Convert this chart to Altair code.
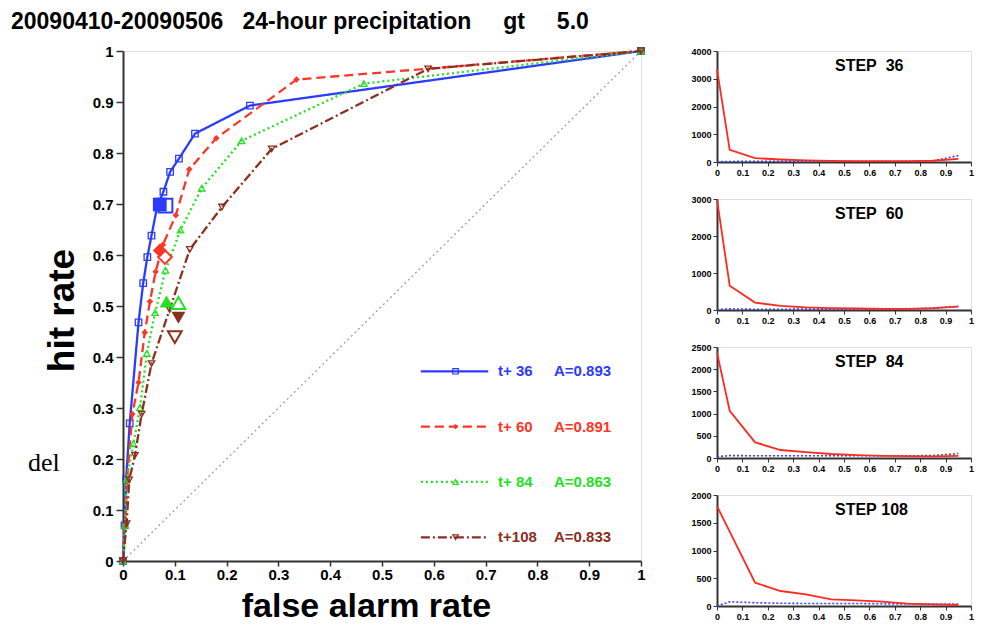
import altair as alt
import pandas as pd

# ---------------- data: ROC curves (false alarm rate, hit rate) ----------------
series_names = ["t+ 36", "t+ 60", "t+ 84", "t+108"]
area_labels = ["A=0.893", "A=0.891", "A=0.863", "A=0.833"]

far_36 = [0, 0.003, 0.006, 0.013, 0.030, 0.039, 0.047, 0.055, 0.066, 0.078, 0.091, 0.108, 0.139, 0.245, 1.0]
hr_36 = [0, 0.07, 0.16, 0.27, 0.468, 0.545, 0.596, 0.638, 0.695, 0.724, 0.763, 0.789, 0.838, 0.893, 1.0]
far_60 = [0, 0.004, 0.008, 0.018, 0.030, 0.042, 0.052, 0.063, 0.077, 0.102, 0.128, 0.180, 0.335, 1.0]
hr_60 = [0, 0.07, 0.16, 0.288, 0.350, 0.448, 0.509, 0.567, 0.620, 0.678, 0.768, 0.829, 0.944, 1.0]
far_84 = [0, 0.004, 0.007, 0.020, 0.033, 0.046, 0.062, 0.082, 0.111, 0.152, 0.229, 0.465, 1.0]
hr_84 = [0, 0.07, 0.16, 0.230, 0.301, 0.407, 0.487, 0.570, 0.649, 0.731, 0.824, 0.936, 1.0]
far_108 = [0, 0.007, 0.012, 0.023, 0.036, 0.055, 0.090, 0.129, 0.191, 0.287, 0.589, 1.0]
hr_108 = [0, 0.073, 0.159, 0.207, 0.288, 0.387, 0.493, 0.611, 0.694, 0.808, 0.965, 1.0]

# large operating-point markers (filled and open)
op_filled_far = [0.071, 0.071, 0.084, 0.107]
op_filled_hr = [0.699, 0.609, 0.509, 0.477]
op_open_far = [0.082, 0.081, 0.107, 0.100]
op_open_hr = [0.697, 0.596, 0.506, 0.439]

diag = [0, 1]

# ---------------- data: small panels ----------------
steps = ["STEP\u00a0\u00a036", "STEP\u00a0\u00a060", "STEP\u00a0\u00a084", "STEP\u00a0108"]
prob_bins = [0, 0.05, 0.15, 0.25, 0.35, 0.45, 0.55, 0.65, 0.75, 0.85, 0.95]
red_36 = [3350, 440, 140, 90, 55, 40, 35, 30, 30, 45, 110]
blue_36 = [10, 20, 25, 25, 25, 25, 25, 25, 25, 40, 230]
red_60 = [2980, 656, 200, 110, 70, 50, 40, 30, 30, 50, 90]
blue_60 = [10, 30, 20, 20, 25, 25, 25, 25, 25, 50, 100]
red_84 = [2373, 1063, 352, 180, 130, 90, 65, 50, 40, 35, 50]
blue_84 = [30, 55, 50, 50, 50, 50, 50, 50, 50, 55, 100]
red_108 = [1800, 1340, 420, 270, 210, 120, 100, 78, 42, 30, 18]
blue_108 = [0, 75, 60, 50, 45, 45, 45, 40, 35, 35, 35]
panel_ymax = [4000, 3000, 2500, 2000]
panel_yticks = [[0, 1000, 2000, 3000, 4000], [0, 1000, 2000, 3000],
                [0, 500, 1000, 1500, 2000, 2500], [0, 500, 1000, 1500, 2000]]

# ---------------- styles ----------------
FONT = "Liberation Sans"
colors = ["#2b3cff", "#ff3526", "#22e022", "#8c2f1c"]
dashes = [[1, 0], [9, 5], [2, 3], [9, 3, 2, 3]]
shapes = ["square", "diamond", "triangle-up", "triangle-down"]
filled_small = [False, True, False, False]

W, H = 518, 510
ticks01 = [0, 0.1, 0.2, 0.3, 0.4, 0.5, 0.6, 0.7, 0.8, 0.9, 1]
xs = alt.Scale(domain=[0, 1], nice=False, zero=False)
ys = alt.Scale(domain=[0, 1], nice=False, zero=False)

xaxis = alt.Axis(values=ticks01, format="~g", grid=False, labelFont=FONT, labelFontSize=15,
                 labelFontWeight="bold", labelColor="black", tickSize=5, tickWidth=1.5,
                 tickColor="#333", domainColor="#333", domainWidth=2, labelPadding=1,
                 labelFlush=False, labelOverlap=False, title="false alarm rate", titleFont=FONT,
                 titleFontSize=34, titleFontWeight="bold", titleColor="black", titleX=243, titleY=55,
                 titleAlign="center", titleBaseline="alphabetic")
yaxis = alt.Axis(values=ticks01, format="~g", grid=False, labelFont=FONT, labelFontSize=15,
                 labelFontWeight="bold", labelColor="black", tickSize=7, tickWidth=1.5,
                 tickColor="#333", domainColor="#333", domainWidth=2, labelPadding=3,
                 labelFlush=False, labelOverlap=False, title="hit rate", titleFont=FONT,
                 titleFontSize=37, titleFontWeight="bold", titleColor="black", titleX=-50, titleY=259,
                 titleAngle=270, titleAlign="center", titleBaseline="alphabetic")

X = lambda f: alt.X(f, scale=xs, axis=xaxis)
Y = lambda f: alt.Y(f, scale=ys, axis=yaxis)

fars = [far_36, far_60, far_84, far_108]
hrs = [hr_36, hr_60, hr_84, hr_108]

layers = []
diag_df = pd.DataFrame({"x": diag, "y": diag})
layers.append(alt.Chart(diag_df).mark_line(color="#999", strokeDash=[2, 3], strokeWidth=1.2).encode(
    x=X("x:Q"), y=Y("y:Q")))

for i in range(4):
    df = pd.DataFrame({"x": fars[i], "y": hrs[i]})
    base = alt.Chart(df).encode(x=X("x:Q"), y=Y("y:Q"))
    layers.append(base.mark_line(color=colors[i], strokeDash=dashes[i], strokeWidth=2.3))
    layers.append(base.mark_point(shape=shapes[i], filled=filled_small[i], color=colors[i],
                                  size=42, strokeWidth=1.3, opacity=1))

for i in range(4):
    dff = pd.DataFrame({"x": [op_filled_far[i]], "y": [op_filled_hr[i]]})
    layers.append(alt.Chart(dff).mark_point(shape=shapes[i], filled=True, color=colors[i], size=190,
                                            opacity=1).encode(x=X("x:Q"), y=Y("y:Q")))
    dfo = pd.DataFrame({"x": [op_open_far[i]], "y": [op_open_hr[i]]})
    layers.append(alt.Chart(dfo).mark_point(shape=shapes[i], filled=False, color=colors[i], size=190,
                                            strokeWidth=2, opacity=1).encode(x=X("x:Q"), y=Y("y:Q")))

# legend (built from marks)
for i in range(4):
    ly = 0.372 - i * 0.1085
    ldf = pd.DataFrame({"x": [0.575], "x2": [0.705], "xm": [0.642], "y": [ly],
                        "name": [series_names[i]], "area": [area_labels[i]],
                        "xt": [0.724], "xa": [0.832]})
    lb = alt.Chart(ldf)
    layers.append(lb.mark_rule(color=colors[i], strokeDash=dashes[i], strokeWidth=2.3).encode(
        x=X("x:Q"), x2="x2:Q", y=Y("y:Q")))
    layers.append(lb.mark_point(shape=shapes[i], filled=filled_small[i], color=colors[i], size=30,
                                strokeWidth=1.2, opacity=1).encode(x=X("xm:Q"), y=Y("y:Q")))
    layers.append(lb.mark_text(align="left", baseline="middle", font=FONT, fontSize=15,
                               fontWeight="bold", color=colors[i]).encode(
        x=X("xt:Q"), y=Y("y:Q"), text="name:N"))
    layers.append(lb.mark_text(align="left", baseline="middle", font=FONT, fontSize=15,
                               fontWeight="bold", color=colors[i]).encode(
        x=X("xa:Q"), y=Y("y:Q"), text="area:N"))

TITLE = ("20090410-20090506\u00a0\u00a0\u00a024-hour precipitation"
         "\u00a0\u00a0\u00a0\u00a0\u00a0gt\u00a0\u00a0\u00a0\u00a0\u00a05.0")
layers.append(alt.Chart(pd.DataFrame({"t": [TITLE]})).mark_text(
    align="left", baseline="alphabetic", font=FONT, fontSize=23, fontWeight="bold", color="black").encode(
    x=alt.value(-112), y=alt.value(-22), text="t:N"))
layers.append(alt.Chart(pd.DataFrame({"t": ["del"]})).mark_text(
    align="left", baseline="alphabetic", font="Liberation Serif", fontSize=26, color="black").encode(
    x=alt.value(-95), y=alt.value(420), text="t:N"))

main = alt.layer(*layers).properties(width=W, height=H)

# ---------------- small panels ----------------
reds = [red_36, red_60, red_84, red_108]
blues = [blue_36, blue_60, blue_84, blue_108]
panels = []
for i in range(4):
    pdf = pd.DataFrame({"p": prob_bins, "red": reds[i], "blue": blues[i]})
    px = alt.Scale(domain=[0, 1], nice=False, zero=False)
    py = alt.Scale(domain=[0, panel_ymax[i]], nice=False)
    pxa = alt.Axis(values=ticks01, format="~g", grid=False, title=None, labelFont=FONT,
                   labelFontSize=9, labelFontWeight="bold", labelColor="black", tickSize=4,
                   tickColor="#333", domainColor="#333", domainWidth=2, labelPadding=2,
                   labelFlush=False, labelOverlap=False)
    pya = alt.Axis(values=panel_yticks[i], format="d", grid=False, title=None, labelFont=FONT,
                   labelFontSize=9, labelFontWeight="bold", labelColor="black", tickSize=4,
                   tickColor="#333", domainColor="#333", domainWidth=2, labelPadding=2,
                   labelFlush=False, labelOverlap=False)
    pb = alt.Chart(pdf)
    blue_l = pb.mark_line(color="#3344ff", strokeDash=[2, 2], strokeWidth=1.6).encode(
        x=alt.X("p:Q", scale=px, axis=pxa), y=alt.Y("blue:Q", scale=py, axis=pya))
    red_l = pb.mark_line(color="#ff2a1f", strokeWidth=1.8).encode(
        x=alt.X("p:Q", scale=px, axis=pxa), y=alt.Y("red:Q", scale=py, axis=pya))
    lab = alt.Chart(pd.DataFrame({"t": [steps[i]]})).mark_text(
        align="left", baseline="alphabetic", font=FONT, fontSize=16, fontWeight="bold",
        color="black").encode(x=alt.value(118), y=alt.value(20), text="t:N")
    panels.append(alt.layer(blue_l, red_l, lab).properties(width=254, height=111))

right = alt.vconcat(*panels, spacing=37, bounds="flush")

chart = alt.hconcat(main, right, spacing=76, bounds="flush").properties(
    padding={"left": 2, "top": 2, "right": 0, "bottom": 0}
).configure_view(stroke="#333", strokeWidth=2).configure(background="white")

chart.save("out.html", embed_options={"renderer": "svg", "actions": False})
